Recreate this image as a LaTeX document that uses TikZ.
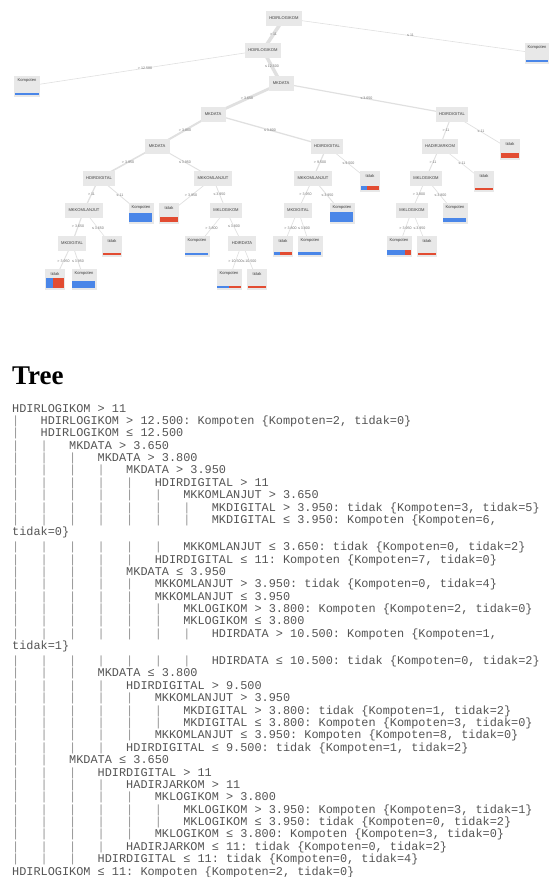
\documentclass[tikz,border=0pt]{standalone}
\usepackage{fontspec}
\setmainfont{Liberation Sans}
\setmonofont{Liberation Mono}
\newfontfamily\titlefont{Liberation Serif}
\newfontfamily\treefont{Liberation Sans}
\usetikzlibrary{backgrounds}
\definecolor{boxgray}{RGB}{232,232,232}
\definecolor{edgegray}{RGB}{224,224,224}
\definecolor{txtgray}{RGB}{60,60,60}
\definecolor{lblgray}{RGB}{115,115,115}
\definecolor{kblue}{RGB}{74,134,232}
\definecolor{tred}{RGB}{226,76,50}
\definecolor{codegray}{RGB}{85,85,85}
\definecolor{pipegray}{RGB}{150,150,150}

\tikzset{
  inbox/.style={rectangle, fill=boxgray, minimum height=15pt, minimum width=25pt,
    inner xsep=3.5pt, inner ysep=0pt, anchor=north,
    font=\treefont\fontsize{4.1}{4.6}\selectfont, text=txtgray},
  leafbox/.style={rectangle, fill=boxgray, minimum height=21pt, anchor=north, inner sep=0pt},
  boxtxt/.style={inner sep=0pt, font=\treefont\fontsize{4.1}{4.6}\selectfont, text=txtgray},
  tedge/.style={draw=edgegray, line width={0.5pt+0.045pt*#1}},
  elbl/.style={inner sep=0.5pt, font=\treefont\fontsize{3.6}{4}\selectfont, text=lblgray},
  codetxt/.style={anchor=base west, inner sep=0pt,
    font=\ttfamily\fontsize{11.88}{12}\selectfont, text=codegray},
}

% name, x, top y, label, nK, nT, width
\newcommand\leafnode[7]{%
  \node[leafbox, minimum width=#7pt] (#1) at (#2,#3) {};
  \node[boxtxt] (#1t) at ([yshift=-5.5pt]#1.north) {#4};
  \pgfmathsetmacro\barh{1.3*(#5+#6)}%
  \pgfmathsetmacro\bwid{(#7-2)*#5/(#5+#6)}%
  \pgfmathsetmacro\rwid{(#7-2)*#6/(#5+#6)}%
  \ifdim\bwid pt>0pt \fill[kblue] ([xshift=1pt,yshift=1.5pt]#1.south west) rectangle ++(\bwid pt,\barh pt);\fi
  \ifdim\rwid pt>0pt \fill[tred] ([xshift=-1pt,yshift=1.5pt]#1.south east) rectangle ++(-\rwid pt,\barh pt);\fi
}

\newlength\codey
\setlength\codey{412pt}
\newcounter{codeln}
\newcommand\lv{\makebox[2.4em][l]{\textcolor{pipegray}{|}}}
\newcommand\codeline[2][0]{%
  \addtolength\codey{#1pt}%
  \stepcounter{codeln}%
  \node[codetxt] (l\number\value{codeln}) at (12pt,-\codey) {#2};%
  \addtolength\codey{12.38pt}%
}

\begin{document}
\begin{tikzpicture}[x=1pt,y=-1pt]
\useasboundingbox (0,0) rectangle (549,877);

% ---------- tree: internal nodes ----------
\node[inbox] (n0) at (284,10.5) {HDIRLOGIKOM};
\node[inbox] (n1) at (263,42.5) {HDIRLOGIKOM};
\node[inbox] (n2) at (281,75.5) {MKDATA};
\node[inbox] (n3) at (213,106.5) {MKDATA};
\node[inbox] (n4) at (452,106.5) {HDIRDIGITAL};
\node[inbox] (n5) at (157,138.5) {MKDATA};
\node[inbox] (n6) at (327,138.5) {HDIRDIGITAL};
\node[inbox] (n7) at (440,138.5) {HADIRJARKOM};
\node[inbox] (n8) at (99,170.5) {HDIRDIGITAL};
\node[inbox] (n9) at (213,170.5) {MKKOMLANJUT};
\node[inbox] (n10) at (313,170.5) {MKKOMLANJUT};
\node[inbox] (n11) at (426,170.5) {MKLOGIKOM};
\node[inbox] (n12) at (84,202.5) {MKKOMLANJUT};
\node[inbox] (n13) at (226,202.5) {MKLOGIKOM};
\node[inbox] (n14) at (298,202.5) {MKDIGITAL};
\node[inbox] (n15) at (412,202.5) {MKLOGIKOM};
\node[inbox] (n16) at (72,235.5) {MKDIGITAL};
\node[inbox] (n17) at (242,235.5) {HDIRDATA};

% ---------- tree: leaves ----------
\leafnode{a1}{537}{42.5}{Kompoten}{2}{0}{24}
\leafnode{a2}{27}{75.5}{Kompoten}{2}{0}{26}
\leafnode{a3}{510}{138.5}{tidak}{0}{4}{20}
\leafnode{a4}{370}{170.5}{tidak}{1}{2}{20}
\leafnode{a5}{484}{170.5}{tidak}{0}{2}{19.5}
\leafnode{a6}{141}{202.5}{Kompoten}{7}{0}{25}
\leafnode{a7}{169}{202.5}{tidak}{0}{4}{19.5}
\leafnode{a8}{342}{202.5}{Kompoten}{8}{0}{25}
\leafnode{a9}{455}{202.5}{Kompoten}{3}{0}{25}
\leafnode{a10}{112}{235.5}{tidak}{0}{2}{19.5}
\leafnode{a11}{197}{235.5}{Kompoten}{2}{0}{25}
\leafnode{a12}{283}{235.5}{tidak}{1}{2}{19.5}
\leafnode{a13}{310}{235.5}{Kompoten}{3}{0}{25}
\leafnode{a14}{399}{235.5}{Kompoten}{3}{1}{25}
\leafnode{a15}{427}{235.5}{tidak}{0}{2}{20}
\leafnode{a16}{55}{268.5}{tidak}{3}{5}{20}
\leafnode{a17}{84}{268.5}{Kompoten}{6}{0}{25}
\leafnode{a18}{229}{268.5}{Kompoten}{1}{1}{25}
\leafnode{a19}{257}{268.5}{tidak}{0}{2}{20}

% ---------- tree: connectors ----------
\begin{pgfonlayer}{background}
\fill[white] (0,0) rectangle (549,877);
\draw[tedge=67] (n0.center) -- node[elbl]{> 11} (n1.center);
\draw[tedge=2] (n0.center) -- node[elbl]{≤ 11} (a1.center);
\draw[tedge=2] (n1.center) -- node[elbl]{> 12.500} (a2.center);
\draw[tedge=65] (n1.center) -- node[elbl]{≤ 12.500} (n2.center);
\draw[tedge=50] (n2.center) -- node[elbl]{> 3.650} (n3.center);
\draw[tedge=15] (n2.center) -- node[elbl]{≤ 3.650} (n4.center);
\draw[tedge=33] (n3.center) -- node[elbl]{> 3.800} (n5.center);
\draw[tedge=17] (n3.center) -- node[elbl]{≤ 3.800} (n6.center);
\draw[tedge=11] (n4.center) -- node[elbl]{> 11} (n7.center);
\draw[tedge=4] (n4.center) -- node[elbl]{≤ 11} (a3.center);
\draw[tedge=23] (n5.center) -- node[elbl]{> 3.950} (n8.center);
\draw[tedge=10] (n5.center) -- node[elbl]{≤ 3.950} (n9.center);
\draw[tedge=14] (n6.center) -- node[elbl]{> 9.500} (n10.center);
\draw[tedge=3] (n6.center) -- node[elbl]{≤ 9.500} (a4.center);
\draw[tedge=9] (n7.center) -- node[elbl]{> 11} (n11.center);
\draw[tedge=2] (n7.center) -- node[elbl]{≤ 11} (a5.center);
\draw[tedge=16] (n8.center) -- node[elbl]{> 11} (n12.center);
\draw[tedge=7] (n8.center) -- node[elbl]{≤ 11} (a6.center);
\draw[tedge=4] (n9.center) -- node[elbl]{> 3.950} (a7.center);
\draw[tedge=6] (n9.center) -- node[elbl]{≤ 3.950} (n13.center);
\draw[tedge=6] (n10.center) -- node[elbl]{> 3.950} (n14.center);
\draw[tedge=8] (n10.center) -- node[elbl]{≤ 3.950} (a8.center);
\draw[tedge=6] (n11.center) -- node[elbl]{> 3.800} (n15.center);
\draw[tedge=3] (n11.center) -- node[elbl]{≤ 3.800} (a9.center);
\draw[tedge=14] (n12.center) -- node[elbl]{> 3.650} (n16.center);
\draw[tedge=2] (n12.center) -- node[elbl]{≤ 3.650} (a10.center);
\draw[tedge=2] (n13.center) -- node[elbl]{> 3.800} (a11.center);
\draw[tedge=4] (n13.center) -- node[elbl]{≤ 3.800} (n17.center);
\draw[tedge=3] (n14.center) -- node[elbl]{> 3.800} (a12.center);
\draw[tedge=3] (n14.center) -- node[elbl]{≤ 3.800} (a13.center);
\draw[tedge=4] (n15.center) -- node[elbl]{> 3.950} (a14.center);
\draw[tedge=2] (n15.center) -- node[elbl]{≤ 3.950} (a15.center);
\draw[tedge=8] (n16.center) -- node[elbl]{> 3.950} (a16.center);
\draw[tedge=6] (n16.center) -- node[elbl]{≤ 3.950} (a17.center);
\draw[tedge=2] (n17.center) -- node[elbl]{> 10.500} (a18.center);
\draw[tedge=2] (n17.center) -- node[elbl]{≤ 10.500} (a19.center);
\end{pgfonlayer}

% ---------- heading ----------
\node[anchor=base west, inner sep=0pt, font=\titlefont\bfseries\fontsize{27}{30}\selectfont] (title) at (12,384) {Tree};

% ---------- text listing ----------
\codeline{HDIRLOGIKOM > 11}
\codeline{\lv HDIRLOGIKOM > 12.500: Kompoten \{Kompoten=2, tidak=0\}}
\codeline{\lv HDIRLOGIKOM ≤ 12.500}
\codeline{\lv\lv MKDATA > 3.650}
\codeline{\lv\lv\lv MKDATA > 3.800}
\codeline{\lv\lv\lv\lv MKDATA > 3.950}
\codeline{\lv\lv\lv\lv\lv HDIRDIGITAL > 11}
\codeline{\lv\lv\lv\lv\lv\lv MKKOMLANJUT > 3.650}
\codeline{\lv\lv\lv\lv\lv\lv\lv MKDIGITAL > 3.950: tidak \{Kompoten=3, tidak=5\}}
\codeline{\lv\lv\lv\lv\lv\lv\lv MKDIGITAL ≤ 3.950: Kompoten \{Kompoten=6,}
\codeline{tidak=0\}}
\codeline[2.5]{\lv\lv\lv\lv\lv\lv MKKOMLANJUT ≤ 3.650: tidak \{Kompoten=0, tidak=2\}}
\codeline{\lv\lv\lv\lv\lv HDIRDIGITAL ≤ 11: Kompoten \{Kompoten=7, tidak=0\}}
\codeline{\lv\lv\lv\lv MKDATA ≤ 3.950}
\codeline{\lv\lv\lv\lv\lv MKKOMLANJUT > 3.950: tidak \{Kompoten=0, tidak=4\}}
\codeline{\lv\lv\lv\lv\lv MKKOMLANJUT ≤ 3.950}
\codeline{\lv\lv\lv\lv\lv\lv MKLOGIKOM > 3.800: Kompoten \{Kompoten=2, tidak=0\}}
\codeline{\lv\lv\lv\lv\lv\lv MKLOGIKOM ≤ 3.800}
\codeline{\lv\lv\lv\lv\lv\lv\lv HDIRDATA > 10.500: Kompoten \{Kompoten=1,}
\codeline{tidak=1\}}
\codeline[2.5]{\lv\lv\lv\lv\lv\lv\lv HDIRDATA ≤ 10.500: tidak \{Kompoten=0, tidak=2\}}
\codeline{\lv\lv\lv MKDATA ≤ 3.800}
\codeline{\lv\lv\lv\lv HDIRDIGITAL > 9.500}
\codeline{\lv\lv\lv\lv\lv MKKOMLANJUT > 3.950}
\codeline{\lv\lv\lv\lv\lv\lv MKDIGITAL > 3.800: tidak \{Kompoten=1, tidak=2\}}
\codeline{\lv\lv\lv\lv\lv\lv MKDIGITAL ≤ 3.800: Kompoten \{Kompoten=3, tidak=0\}}
\codeline{\lv\lv\lv\lv\lv MKKOMLANJUT ≤ 3.950: Kompoten \{Kompoten=8, tidak=0\}}
\codeline{\lv\lv\lv\lv HDIRDIGITAL ≤ 9.500: tidak \{Kompoten=1, tidak=2\}}
\codeline{\lv\lv MKDATA ≤ 3.650}
\codeline{\lv\lv\lv HDIRDIGITAL > 11}
\codeline{\lv\lv\lv\lv HADIRJARKOM > 11}
\codeline{\lv\lv\lv\lv\lv MKLOGIKOM > 3.800}
\codeline{\lv\lv\lv\lv\lv\lv MKLOGIKOM > 3.950: Kompoten \{Kompoten=3, tidak=1\}}
\codeline{\lv\lv\lv\lv\lv\lv MKLOGIKOM ≤ 3.950: tidak \{Kompoten=0, tidak=2\}}
\codeline{\lv\lv\lv\lv\lv MKLOGIKOM ≤ 3.800: Kompoten \{Kompoten=3, tidak=0\}}
\codeline{\lv\lv\lv\lv HADIRJARKOM ≤ 11: tidak \{Kompoten=0, tidak=2\}}
\codeline{\lv\lv\lv HDIRDIGITAL ≤ 11: tidak \{Kompoten=0, tidak=4\}}
\codeline{HDIRLOGIKOM ≤ 11: Kompoten \{Kompoten=2, tidak=0\}}

\end{tikzpicture}
\end{document}
